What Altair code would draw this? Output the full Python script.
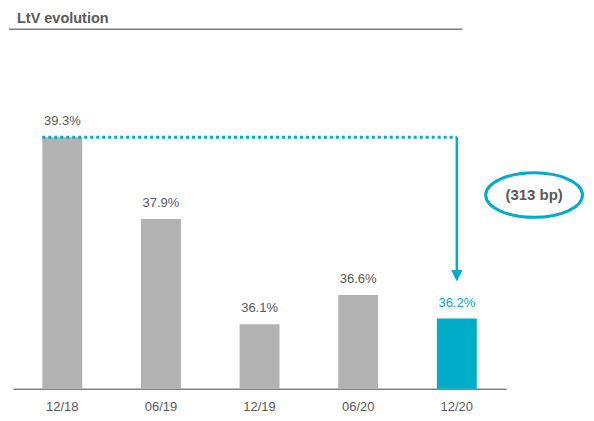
import altair as alt
import pandas as pd

periods = ["12/18", "06/19", "12/19", "06/20", "12/20"]
ltv = [39.3, 37.9, 36.1, 36.6, 36.2]
labels = ["39.3%", "37.9%", "36.1%", "36.6%", "36.2%"]
highlight = [False, False, False, False, True]

title_text = "LtV evolution"
change_text = "(313 bp)"

GRAY = "#b2b2b2"
TEAL = "#00acc8"
TXT = "#595959"
FONT = "Liberation Sans"

df = pd.DataFrame({"period": periods, "ltv": ltv, "label": labels, "hl": highlight})

x = alt.X("period:N", sort=periods,
          scale=alt.Scale(domain=periods, paddingInner=0, paddingOuter=0),
          axis=alt.Axis(title=None, labelAngle=0, ticks=False, domainColor="#808080",
                        domainWidth=1.5, labelFont=FONT, labelFontSize=13,
                        labelColor=TXT, labelPadding=12, grid=False))
y = alt.Y("ltv:Q", scale=alt.Scale(domain=[35, 40], nice=False, zero=False, clamp=False),
          axis=None)

color = alt.condition("datum.hl", alt.value(TEAL), alt.value(GRAY))

bars = alt.Chart(df).mark_bar(size=40, clip=False).encode(
    x=x, y=y, y2=alt.datum(35), color=color)

text = alt.Chart(df).mark_text(baseline="alphabetic", dy=-12, font=FONT, fontSize=13).encode(
    x=x, y="ltv:Q", text="label:N", color=alt.condition("datum.hl", alt.value(TEAL), alt.value(TXT)))

start_val = ltv[0]
dotted = alt.Chart().mark_rule(strokeDash=[3, 3], strokeWidth=3, color=TEAL, xOffset=-20,
                               strokeCap="butt").encode(
    x=alt.datum(periods[0], type="nominal", scale=alt.Scale(domain=periods)),
    x2=alt.datum(periods[-1]),
    y=alt.datum(start_val), )

vline = alt.Chart().mark_rule(strokeWidth=2.5, color=TEAL).encode(
    x=alt.datum(periods[-1], type="nominal"),
    y=alt.datum(start_val), y2=alt.datum(37.02))

arrow = alt.Chart().mark_point(shape="M-1,-1L1,-1L0,1Z", filled=True, opacity=1, size=130,
                               color=TEAL).encode(
    x=alt.datum(periods[-1], type="nominal"), y=alt.datum(36.93))

ellipse = alt.Chart().mark_point(
    shape="M-1,0A1,0.46,0,1,1,1,0A1,0.46,0,1,1,-1,0Z", filled=False, size=9400,
    strokeWidth=3, color=TEAL, opacity=1).encode(x=alt.value(522), y=alt.value(99))

change = alt.Chart().mark_text(font=FONT, fontSize=15, fontWeight="bold", color=TXT,
                               baseline="middle", align="center").encode(
    x=alt.value(522), y=alt.value(99), text=alt.value(change_text))

title = alt.Chart().mark_text(font=FONT, fontSize=14.5, fontWeight="bold", color=TXT,
                              baseline="alphabetic", align="left").encode(
    x=alt.value(4), y=alt.value(-73), text=alt.value(title_text))

underline = alt.Chart().mark_rule(color="#7f7f7f", strokeWidth=1.5).encode(
    x=alt.value(-4), x2=alt.value(450), y=alt.value(-67))

chart = alt.layer(bars, text, dotted, vline, arrow, ellipse, change, title, underline).properties(
    width=494, height=293,
    padding={"left": 5, "top": 88, "right": 80, "bottom": 26},
    autosize=alt.AutoSizeParams(type="none"),
).configure_view(stroke=None)

chart.save("out.html", embed_options={"renderer": "svg", "actions": False})
